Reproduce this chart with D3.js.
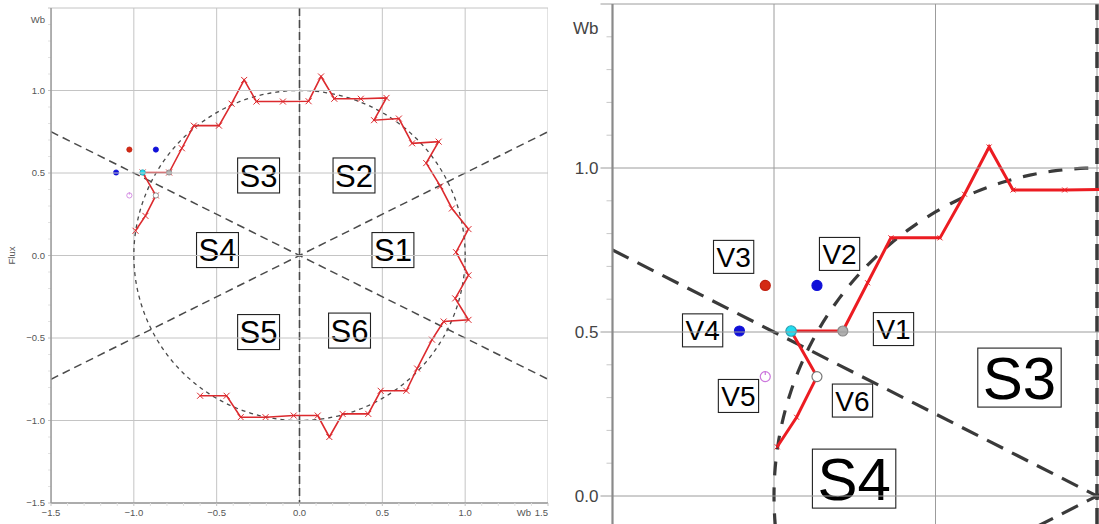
<!DOCTYPE html>
<html>
<head>
<meta charset="utf-8">
<script src="https://cdn.jsdelivr.net/npm/d3@7"></script>
<style>
  html, body { margin: 0; padding: 0; background: #fff; }
  svg { display: block; font-family: "Liberation Sans", Arial, sans-serif; }
</style>
</head>
<body>
<svg id="chart" width="1099" height="524"></svg>
<script>
// ---------------- DATA ----------------
const tickValues = [-1.5, -1.0, -0.5, 0.0, 0.5, 1.0, 1.5];
const yLabelValues = [-1.5, -1.0, -0.5, 0.0, 0.5, 1.0];
const minorTickValues = d3.range(-15, 16).map(d => d / 10);

// stator flux trajectory (Wb), traced counter-clockwise
const trajX = [-0.60, -0.44, -0.355, -0.205, -0.035, 0.11, 0.18, 0.26, 0.415, 0.49, 0.645, 0.71, 0.80, 0.87,
               1.02, 0.94, 1.02, 0.945, 1.02, 0.92, 0.85, 0.765, 0.84, 0.68, 0.60, 0.45, 0.525, 0.37, 0.21,
               0.13, 0.055, -0.10, -0.26, -0.334, -0.41, -0.486, -0.638, -0.71, -0.787, -0.947, -0.867, -0.93, -0.99];
const trajY = [-0.85, -0.85, -0.98, -0.98, -0.97, -0.97, -1.10, -0.96, -0.96, -0.82, -0.82, -0.685, -0.51, -0.40,
               -0.39, -0.26, -0.12, 0.02, 0.16, 0.285, 0.42, 0.56, 0.69, 0.68, 0.83, 0.82, 0.955, 0.95, 0.95,
               1.085, 0.935, 0.933, 0.933, 1.064, 0.92, 0.787, 0.787, 0.65, 0.503, 0.503, 0.364, 0.24, 0.15];

// reference flux circle radius
const fluxRadius = 1.0;
// sector boundary slopes (lines through origin) and the vertical boundary x = 0
const sectorSlopes = [0.5, -0.5];

// sector labels
const sectorNames = ["S1", "S2", "S3", "S4", "S5", "S6"];
const sectorX = [0.564, 0.329, -0.247, -0.495, -0.247, 0.302];
const sectorY = [0.033, 0.485, 0.485, 0.033, -0.464, -0.455];

// current flux point and the six voltage-vector end points
const currentX = -0.947, currentY = 0.503;
const vecNames = ["V1", "V2", "V3", "V4", "V5", "V6"];
const vecX = [-0.787, -0.867, -1.027, -1.107, -1.027, -0.867];
const vecY = [0.503, 0.642, 0.642, 0.503, 0.364, 0.364];

// labels in the zoomed view
const zoomVecLabelX = [-0.630, -0.797, -1.125, -1.221, -1.110, -0.757];
const zoomVecLabelY = [0.509, 0.738, 0.729, 0.505, 0.305, 0.291];
const zoomSectorNames = ["S3", "S4"];
const zoomSectorX = [-0.240, -0.752];
const zoomSectorY = [0.361, 0.053];
const zoomYTicks = [0.0, 0.5, 1.0];
const zoomYGrid = [0.0, 0.5, 1.0, 1.5];
const zoomXTicks = [-1.5, -1.0, -0.5, 0.0];

// ---------------- DRAW ----------------
const svg = d3.select("#chart");
const fmt = d3.format(".1f");
const pts = trajX.map((x, i) => [x, trajY[i]]);
const vecStyle = [
  {fill: "#b0b0b0", stroke: "#888"},
  {fill: "#1010d8", stroke: "#1010d8"},
  {fill: "#d42a14", stroke: "#c02010"},
  {fill: "#1010d8", stroke: "#1010d8"},
  {fill: "none", stroke: "#cc77dd", power: true},
  {fill: "#fff", stroke: "#777"}
];

function drawPanel(cfg) {
  const x = d3.scaleLinear().domain(cfg.xDom).range(cfg.xRange);
  const y = d3.scaleLinear().domain(cfg.yDom).range(cfg.yRange);
  const g = svg.append("g");
  const clipId = "clip" + cfg.id;
  svg.append("defs").append("clipPath").attr("id", clipId)
    .append("rect").attr("x", cfg.clip[0]).attr("y", cfg.clip[1])
    .attr("width", cfg.clip[2] - cfg.clip[0]).attr("height", cfg.clip[3] - cfg.clip[1]);
  const pg = g.append("g").attr("clip-path", `url(#${clipId})`);

  const x0 = cfg.xRange[0], y0 = cfg.plotBottom;
  const xEnd = cfg.plotRight;
  // grid
  pg.selectAll(".vg").data(cfg.xGrid).join("line")
    .attr("x1", d => x(d)).attr("x2", d => x(d))
    .attr("y1", cfg.yRange[0]).attr("y2", y0)
    .attr("stroke", cfg.gridColor).attr("stroke-width", 1);
  g.selectAll(".hg").data(cfg.yGrid).join("line")
    .attr("x1", x0 - cfg.majorTick).attr("x2", xEnd)
    .attr("y1", d => y(d)).attr("y2", d => y(d))
    .attr("stroke", cfg.gridColor).attr("stroke-width", 1);

  // minor ticks on y axis
  g.selectAll(".mt").data(minorTickValues.filter(v => y(v) >= cfg.yRange[0] - 0.5 && y(v) <= y0 + 0.5 && !cfg.yGrid.some(t => Math.abs(t - v) < 1e-9)))
    .join("line")
    .attr("x1", x0 - cfg.minorTick).attr("x2", x0)
    .attr("y1", d => y(d)).attr("y2", d => y(d))
    .attr("stroke", cfg.minorColor).attr("stroke-width", 1);

  // y axis line
  g.append("line").attr("x1", x0).attr("x2", x0).attr("y1", cfg.yRange[0]).attr("y2", y0)
    .attr("stroke", cfg.axisColor).attr("stroke-width", cfg.axisWidth);
  if (cfg.xAxis) {
    g.append("line").attr("x1", x0).attr("x2", xEnd).attr("y1", y0).attr("y2", y0)
      .attr("stroke", cfg.axisColor).attr("stroke-width", cfg.axisWidth);
    g.selectAll(".xmt").data(minorTickValues.filter(v => !cfg.xGrid.some(t => Math.abs(t - v) < 1e-9)))
      .join("line")
      .attr("x1", d => x(d)).attr("x2", d => x(d))
      .attr("y1", y0).attr("y2", y0 + cfg.minorTick)
      .attr("stroke", cfg.minorColor).attr("stroke-width", 1);
    g.selectAll(".xmj").data(cfg.xGrid)
      .join("line")
      .attr("x1", d => x(d)).attr("x2", d => x(d))
      .attr("y1", y0).attr("y2", y0 + cfg.majorTick)
      .attr("stroke", cfg.gridColor).attr("stroke-width", 1);
  }

  // y tick labels
  g.selectAll(".yl").data(cfg.yLabels).join("text")
    .attr("x", x0 - cfg.labelGap).attr("y", d => y(d) + cfg.tickFont * 0.36)
    .attr("text-anchor", "end").attr("font-size", cfg.tickFont).attr("fill", cfg.labelColor)
    .text(fmt);
  // y unit
  g.append("text").attr("x", x0 - cfg.labelGap).attr("y", cfg.unitY)
    .attr("text-anchor", "end").attr("font-size", cfg.tickFont).attr("fill", cfg.labelColor).text("Wb");

  if (cfg.xAxis) {
    g.selectAll(".xl").data(cfg.xGrid).join("text")
      .attr("x", d => x(d))
      .attr("y", y0 + cfg.labelGap + cfg.tickFont * 0.75)
      .attr("text-anchor", (d, i) => i === cfg.xGrid.length - 1 ? "end" : "middle")
      .attr("font-size", cfg.tickFont).attr("fill", cfg.labelColor)
      .text(fmt);
    g.append("text").attr("x", x(1.5) - 17).attr("y", y0 + cfg.labelGap + cfg.tickFont * 0.75)
      .attr("text-anchor", "end").attr("font-size", cfg.tickFont).attr("fill", cfg.labelColor).text("Wb");
    g.append("text").attr("transform", `translate(${cfg.fluxX},${(cfg.yRange[0] + y0) / 2}) rotate(-90)`)
      .attr("text-anchor", "middle").attr("font-size", cfg.tickFont).attr("fill", cfg.labelColor).text("Flux");
  }

  // flux circle
  const circ = d3.range(0, 361, 1).map(a => [fluxRadius * Math.cos(a * Math.PI / 180), fluxRadius * Math.sin(a * Math.PI / 180)]);
  const line = d3.line().x(d => x(d[0])).y(d => y(d[1]));
  pg.append("path").attr("d", line(circ)).attr("fill", "none")
    .attr("stroke", cfg.dashColor).attr("stroke-width", cfg.circleWidth).attr("stroke-dasharray", cfg.circleDash);

  // sector boundaries
  sectorSlopes.forEach(s => {
    pg.append("path").attr("d", line([[-1.5, -1.5 * s], [1.5, 1.5 * s]])).attr("fill", "none")
      .attr("stroke", cfg.dashColor).attr("stroke-width", cfg.sectorWidth).attr("stroke-dasharray", cfg.sectorDash);
  });
  pg.append("path").attr("d", line([[0, cfg.yDom[0]], [0, -1.5]])).attr("fill", "none")
    .attr("stroke", cfg.dashColor).attr("stroke-width", cfg.vWidth).attr("stroke-dasharray", cfg.vDash);

  // trajectory
  pg.append("path").attr("d", line(pts)).attr("fill", "none")
    .attr("stroke", cfg.trajColor).attr("stroke-width", cfg.trajWidth).attr("stroke-linejoin", "miter");
  const m = cfg.marker;
  pg.selectAll(".mk").data(pts).join("path")
    .attr("d", d => { const px = x(d[0]), py = y(d[1]);
      return `M${px - m},${py - m}L${px + m},${py + m}M${px - m},${py + m}L${px + m},${py - m}`; })
    .attr("stroke", cfg.trajColor).attr("stroke-width", cfg.markerWidth);

  // voltage vector points
  vecNames.forEach((n, i) => {
    const st = vecStyle[i];
    const cx = x(vecX[i]), cy = y(vecY[i]);
    pg.append("circle").attr("cx", cx).attr("cy", cy).attr("r", cfg.dotR)
      .attr("fill", st.fill).attr("stroke", st.stroke).attr("stroke-width", cfg.dotStroke);
    if (st.power) {
      pg.append("line").attr("x1", cx).attr("x2", cx).attr("y1", cy - cfg.dotR - 0.5).attr("y2", cy - cfg.dotR * 0.3)
        .attr("stroke", st.stroke).attr("stroke-width", cfg.dotStroke);
    }
  });
  pg.append("circle").attr("cx", x(currentX)).attr("cy", y(currentY)).attr("r", cfg.dotR * 1.05)
    .attr("fill", "#22dcf0").attr("stroke", "#2a9fb0").attr("stroke-width", cfg.dotStroke);

  // boxed labels
  function boxLabel(txt, dx, dy, font, boxH, padX) {
    const cx = x(dx), cy = y(dy);
    const lg = pg.append("g");
    const rect = lg.append("rect");
    const t = lg.append("text").attr("x", cx).attr("y", cy + font * 0.36)
      .attr("text-anchor", "middle").attr("font-size", font).attr("fill", "#000").text(txt);
    const w = t.node().getComputedTextLength() + 2 * padX;
    rect.attr("x", cx - w / 2).attr("y", cy - boxH / 2).attr("width", w).attr("height", boxH)
      .attr("fill", "#fff").attr("stroke", "#222").attr("stroke-width", 1.1);
  }
  cfg.sLabels.names.forEach((n, i) => boxLabel(n, cfg.sLabels.x[i], cfg.sLabels.y[i], cfg.sFont, cfg.sBoxH, cfg.sPad));
  if (cfg.vLabels) {
    vecNames.forEach((n, i) => boxLabel(n, zoomVecLabelX[i], zoomVecLabelY[i], cfg.vFont, cfg.vBoxH, cfg.vPad));
  }
}

// Left: full view
drawPanel({
  id: "L",
  xDom: [-1.5, 1.5], xRange: [51, 548],
  yDom: [1.5, -1.5], yRange: [8, 503],
  plotBottom: 503, plotRight: 548,
  clip: [51, 8, 548, 503],
  xGrid: tickValues, yGrid: tickValues, yLabels: yLabelValues,
  gridColor: "#c4c4c4", minorColor: "#e2e2e2", axisColor: "#9a9a9a", axisWidth: 1.5,
  labelColor: "#555", tickFont: 9.5, labelGap: 6, unitY: 23, fluxX: 15,
  majorTick: 3, minorTick: 3,
  xAxis: true,
  dashColor: "#4a4a4a", circleWidth: 1.3, circleDash: "4,4",
  sectorWidth: 1.5, sectorDash: "8,5", vWidth: 1.6, vDash: "8,4",
  trajColor: "#dc2a2e", trajWidth: 1.6, marker: 3, markerWidth: 1,
  dotR: 2.6, dotStroke: 0.8,
  sLabels: {names: sectorNames, x: sectorX, y: sectorY},
  sFont: 31, sBoxH: 35, sPad: 2,
  vLabels: false
});

// Right: zoomed view
drawPanel({
  id: "R",
  xDom: [-1.5, 0], xRange: [612.5, 1097],
  yDom: [1.5, 0], yRange: [4, 496],
  plotBottom: 524, plotRight: 1099,
  clip: [612, 4, 1099, 524],
  xGrid: zoomXTicks, yGrid: zoomYGrid, yLabels: zoomYTicks,
  gridColor: "#9c9c9c", minorColor: "#c8c8c8", axisColor: "#8a8a8a", axisWidth: 2.2,
  labelColor: "#444", tickFont: 17, labelGap: 14, unitY: 34, fluxX: 0,
  majorTick: 12, minorTick: 6,
  xAxis: false,
  dashColor: "#3a3a3a", circleWidth: 3.2, circleDash: "14,12",
  sectorWidth: 3.2, sectorDash: "18,10", vWidth: 3.5, vDash: "16,8",
  trajColor: "#ec1c22", trajWidth: 3, marker: 2.5, markerWidth: 1,
  dotR: 5, dotStroke: 1.2,
  sLabels: {names: zoomSectorNames, x: zoomSectorX, y: zoomSectorY},
  sFont: 60, sBoxH: 59, sPad: 5,
  vLabels: true, vFont: 28, vBoxH: 33, vPad: 3
});
</script>
</body>
</html>
